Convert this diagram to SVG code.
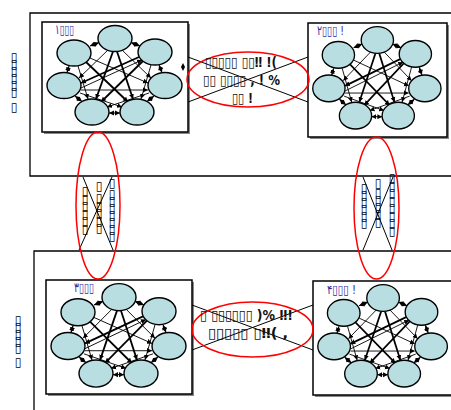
<svg xmlns="http://www.w3.org/2000/svg" xmlns:xlink="http://www.w3.org/1999/xlink" width="451" height="410" viewBox="0 0 451 410">
<style>
.frame{fill:none;stroke:#000;stroke-width:1.3}
.box{fill:#fff;stroke:#000;stroke-width:1.5}
.shadow{fill:#888}
.nd{fill:#b8dee2;stroke:#000;stroke-width:1.4}
.e{stroke:#000;stroke-width:0.9;fill:none;marker-end:url(#ah)}
.t{stroke-width:1.8}
.r{stroke:#000;stroke-width:1;fill:none;marker-start:url(#ah);marker-end:url(#ah)}
.x{stroke:#000;stroke-width:1;fill:none}
.red{fill:none;stroke:#ff0000;stroke-width:1.5}
.tx{font-family:"DejaVu Sans",sans-serif;font-size:14px;font-weight:bold;fill:#111}
.lb{font-family:"DejaVu Sans",sans-serif;font-size:13px;fill:#2a2a9a}
.vt{font-family:"DejaVu Sans",sans-serif;font-size:12px;font-weight:bold;fill:#000;text-anchor:middle}
</style>
<defs>
<marker id="ah" markerUnits="userSpaceOnUse" markerWidth="6" markerHeight="6" refX="5" refY="3" orient="auto-start-reverse">
<path d="M0,0.5 L5,3 L0,5.5 z" fill="#000"/>
</marker>
<g id="net">
<line class="r" x1="48" y1="24" x2="57" y2="20.5"/>
<line class="r" x1="89" y1="20.5" x2="98" y2="24"/>
<line class="r" x1="27" y1="44" x2="25" y2="50.5"/>
<line class="r" x1="117" y1="43" x2="120" y2="50.5"/>
<line class="r" x1="33" y1="74" x2="40" y2="79.5"/>
<line class="r" x1="112" y1="74" x2="105" y2="79.5"/>
<line class="r" x1="67" y1="91" x2="78" y2="91"/>
<line class="e t" x1="71" y1="29.5" x2="54" y2="77"/>
<line class="e t" x1="75" y1="29.5" x2="91" y2="77"/>
<line class="e" x1="66" y1="28" x2="37" y2="56"/>
<line class="e" x1="80" y1="28" x2="109" y2="56"/>
<line class="e t" x1="44" y1="40" x2="86" y2="80"/>
<line class="e t" x1="101" y1="39" x2="59" y2="80"/>
<line class="e" x1="48" y1="36" x2="106" y2="61"/>
<line class="e t" x1="97" y1="35" x2="39" y2="61"/>
<line class="e" x1="39" y1="66" x2="100" y2="38"/>
<line class="e" x1="39" y1="68" x2="106" y2="68"/>
<line class="e" x1="38" y1="71" x2="80" y2="85"/>
<line class="e" x1="107" y1="71" x2="65" y2="85"/>
<line class="e" x1="36" y1="44" x2="46" y2="77"/>
<line class="e" x1="109" y1="43" x2="99" y2="77"/>
<ellipse class="nd" cx="73" cy="16.5" rx="17" ry="13"/>
<ellipse class="nd" cx="32" cy="31" rx="17" ry="13"/>
<ellipse class="nd" cx="113" cy="30" rx="17" ry="13"/>
<ellipse class="nd" cx="22" cy="63.5" rx="17" ry="13"/>
<ellipse class="nd" cx="123" cy="63.5" rx="17" ry="13"/>
<ellipse class="nd" cx="50" cy="90" rx="17" ry="13"/>
<ellipse class="nd" cx="95" cy="90" rx="17" ry="13"/>
</g>
</defs>

<g id="frames">
<path class="frame" d="M452,13 H30 V176 H452"/>
<path class="frame" d="M452,251 H34 V411"/>
</g>

<g id="side-labels">
<text class="vt" x="14 14 14 14 14 14 14" y="61 68 75 82 89 96 111">▯▯▯▯▯▯▯</text>
<text class="vt" x="18 18 18 18 18 18" y="324 331 338 345 352 366">▯▯▯▯▯▯</text>
</g>

<g id="net1">
<rect class="shadow" x="44" y="24" width="146" height="110"/>
<rect class="box" x="42" y="22" width="146" height="110"/>
<use xlink:href="#net" transform="translate(42,22)"/>
<text class="lb" x="55" y="34" textLength="19" lengthAdjust="spacingAndGlyphs">١▯▯▯</text>
</g>

<g id="net2">
<rect class="shadow" x="310" y="25" width="139" height="114"/>
<rect class="box" x="308" y="23" width="139" height="114"/>
<use xlink:href="#net" transform="translate(308,23) scale(0.95,1.03)"/>
<text class="lb" x="317" y="35" textLength="27" lengthAdjust="spacingAndGlyphs">٢▯▯▯ !</text>
</g>

<g id="net3">
<rect class="shadow" x="48" y="282" width="146" height="114"/>
<rect class="box" x="46" y="280" width="146" height="114"/>
<use xlink:href="#net" transform="translate(46,280) scale(1,1.04)"/>
<text class="lb" x="74" y="292" textLength="20" lengthAdjust="spacingAndGlyphs">٣▯▯▯</text>
</g>

<g id="net4">
<rect class="shadow" x="315" y="283" width="140" height="114"/>
<rect class="box" x="313" y="281" width="140" height="114"/>
<use xlink:href="#net" transform="translate(313,281) scale(0.96,1.03)"/>
<text class="lb" x="327" y="294" textLength="29" lengthAdjust="spacingAndGlyphs">۴▯▯▯ !</text>
</g>

<g id="connectors">
<line class="x" x1="188" y1="57" x2="308" y2="102"/>
<line class="x" x1="188" y1="102" x2="308" y2="57"/>
<line class="x" x1="192" y1="305" x2="313" y2="350"/>
<line class="x" x1="192" y1="350" x2="313" y2="305"/>
<line class="x" x1="83" y1="177" x2="113" y2="250"/>
<line class="x" x1="112" y1="177" x2="79" y2="250"/>
<line class="x" x1="363" y1="177" x2="392" y2="250"/>
<line class="x" x1="393" y1="177" x2="363" y2="250"/>
<path d="M183,63 L185,67 L183,71 L181,67 z" fill="#000"/>
</g>

<g id="link-top">
<ellipse class="red" cx="248" cy="79.5" rx="61" ry="27.5"/>
<text class="tx" x="205" y="67" textLength="72" lengthAdjust="spacingAndGlyphs">▯▯▯▯▯ ▯▯‼ !(</text>
<text class="tx" x="203" y="85" textLength="77" lengthAdjust="spacingAndGlyphs">▯▯ ▯▯▯▯ , ! %</text>
<text class="tx" x="232" y="103" textLength="21" lengthAdjust="spacingAndGlyphs">▯▯ !</text>
</g>

<g id="link-bottom">
<ellipse class="red" cx="252.5" cy="329.5" rx="60.5" ry="27.5"/>
<text class="tx" x="200" y="320" textLength="93" lengthAdjust="spacingAndGlyphs">▯ ▯▯▯▯▯▯ )% ‼!</text>
<text class="tx" x="208" y="338" textLength="80" lengthAdjust="spacingAndGlyphs">▯▯▯▯▯ ▯‼( ,</text>
</g>

<g id="link-left">
<ellipse class="red" cx="98" cy="205.5" rx="22" ry="73.5"/>
<text class="vt" x="85 85 85 85 85 85" y="195 202.5 210 217.5 225 232.5">▯▯▯▯▯▯</text>
<text class="vt" x="99 99 99 99 99 99" y="190 202 209.5 217 224.5 232">▯▯▯▯▯▯</text>
<text class="vt" x="112 112 112 112 112 112 112 112" y="187 198 205 212 219 226 233 240">▯▯▯▯▯▯▯▯</text>
</g>

<g id="link-right">
<ellipse class="red" cx="376.5" cy="208" rx="22.5" ry="71"/>
<text class="vt" x="364 364 364 364 364 364" y="192 199 206 213 220 227">▯▯▯▯▯▯</text>
<text class="vt" x="378 378 378 378 378 378" y="187 197 204 211 218 226">▯▯▯▯▯▯</text>
<text class="vt" x="392 392 392 392 392 392 392 392" y="182 189.5 197 204.5 212 219.5 227 234.5">▯▯▯▯▯▯▯▯</text>
</g>
</svg>
